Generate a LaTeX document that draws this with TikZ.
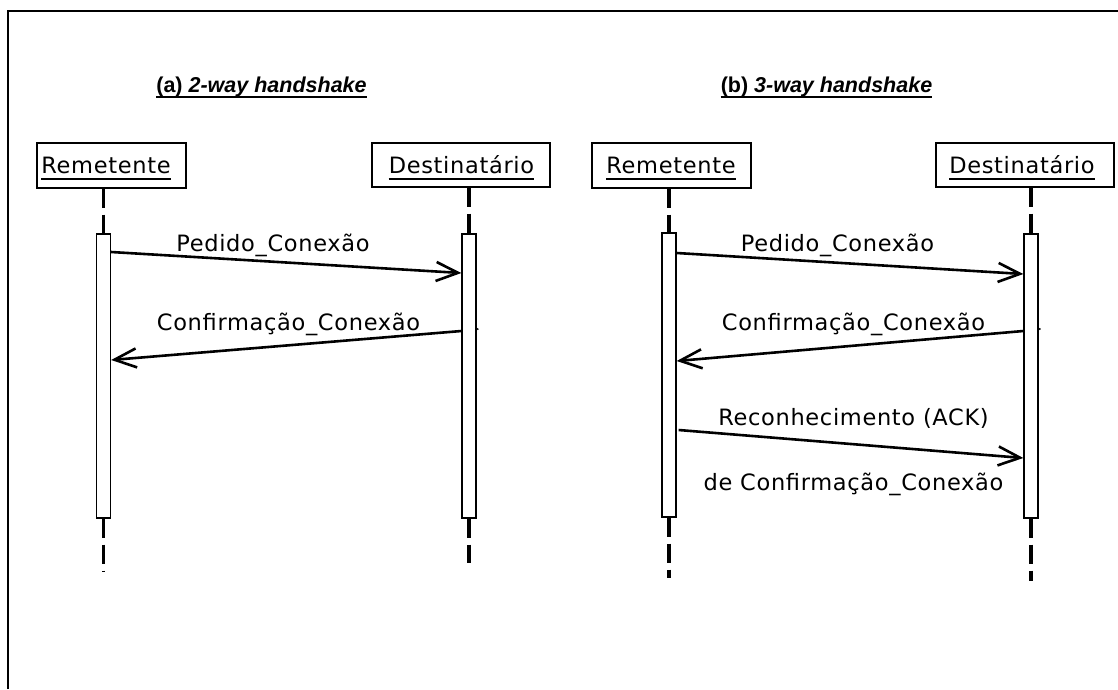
\documentclass[tikz,border=0pt]{standalone}
\usepackage{fontspec}
\usetikzlibrary{arrows.meta,calc}
\newfontfamily\lblfont[LetterSpace=3]{DejaVu Sans}
\newfontfamily\titlefont{Liberation Sans}

\begin{document}
\begin{tikzpicture}[x=1pt,y=-1pt,
  lifeline/.style={line width=3.2pt, dash pattern=on 19pt off 7pt},
  actor/.style={draw, line width=1.4pt, fill=white, inner sep=0pt},
  activation/.style={draw, line width=1.3pt, fill=white, minimum width=14pt, inner sep=0pt},
  msg/.style={line width=2.6pt, -{Straight Barb[length=22pt,width=19pt,line width=2.6pt]}},
  lbl/.style={font=\lblfont\fontsize{22.5}{27}\selectfont, inner sep=0pt, anchor=base},
  ttl/.style={font=\titlefont\fontsize{21.5}{25}\selectfont\bfseries, inner sep=0pt, anchor=base},
  uline/.style={line width=2.8pt},
  tline/.style={line width=1.8pt},
]
\useasboundingbox (0,0) rectangle (1118,689);
\fill[white] (0,0) rectangle (1118,689);

% outer frame
\draw[line width=1.5pt] (8,689) -- (8,11) -- (1118,11);

% titles
\node[ttl] (ttlA) at (261.5,92) {(a) \textit{2-way handshake}};
\node[ttl] (ttlB) at (826.5,92) {(b) \textit{3-way handshake}};
\draw[tline] ($(ttlA.base west)+(0,5)$) -- ($(ttlA.base east)+(0,5)$);
\draw[tline] ($(ttlB.base west)+(0,5)$) -- ($(ttlB.base east)+(0,5)$);

% actor boxes
\node[actor, minimum width=149pt, minimum height=45pt] (aR) at (111.5,165.5) {};
\node[actor, minimum width=178pt, minimum height=44pt] (aD) at (461,165) {};
\node[actor, minimum width=159pt, minimum height=45pt] (bR) at (671.5,165.5) {};
\node[actor, minimum width=178pt, minimum height=44pt] (bD) at (1025,165) {};

\node[lbl] (aRt) at (106,173) {Remetente};
\node[lbl] (aDt) at (461.5,173) {Destinatário};
\node[lbl] (bRt) at (671,173) {Remetente};
\node[lbl] (bDt) at (1022,173) {Destinatário};
\foreach \t in {aRt,aDt,bRt,bDt}
  \draw[uline] ($(\t.base west)+(0,6)$) -- ($(\t.base east)+(0,6)$);

% activation bars
\node[activation, minimum height=284pt] (aRact) at (103.5,376) {};
\node[activation, minimum height=284pt] (aDact) at (469,376) {};
\node[activation, minimum height=284pt] (bRact) at (669,375) {};
\node[activation, minimum height=284pt] (bDact) at (1031,376) {};

% lifelines
\coordinate (aRend) at (103.5,572);
\coordinate (aDend) at (469,563);
\coordinate (bRend) at (669,578);
\coordinate (bDend) at (1031,581);
\draw[lifeline] (aRact.north |- aR.south) -- (aRact.north);
\draw[lifeline] (aDact.north |- aD.south) -- (aDact.north);
\draw[lifeline] (bRact.north |- bR.south) -- (bRact.north);
\draw[lifeline] (bDact.north |- bD.south) -- (bDact.north);
\draw[lifeline] (aRact.south) -- (aRend);
\draw[lifeline] (aDact.south) -- (aDend);
\draw[lifeline] (bRact.south) -- (bRend);
\draw[lifeline] (bDact.south) -- (bDend);

% messages (a)
\draw[msg] (aRact.east |- 0,252) -- (aDact.west |- 0,273);
\draw[msg] (aDact.west |- 0,331) -- (aRact.east |- 0,360);
\node[lbl] (aM1) at (273,251) {Pedido\_Conexão};
\node[lbl] (aM2) at (288.5,330) {Confirmação\_Conexão};

% messages (b)
\draw[msg] (bRact.east |- 0,253) -- (bDact.west |- 0,274);
\draw[msg] (bDact.west |- 0,331) -- (bRact.east |- 0,361);
\draw[msg] ($(bRact.east |- 0,430)+(2,0)$) -- (bDact.west |- 0,458);
\node[lbl] (bM1) at (837.5,251) {Pedido\_Conexão};
\node[lbl] (bM2) at (853.5,330) {Confirmação\_Conexão};
\node[lbl] (bM3) at (853.5,425) {Reconhecimento (ACK)};
\node[lbl] (bM4) at (853.5,490) {de Confirmação\_Conexão};

% small marks beside the reply arrows
\fill (aDact.east |- 0,329) ++(1,0) circle (1.1pt);
\fill (bDact.east |- 0,329) ++(1,0) circle (1.1pt);
\end{tikzpicture}
\end{document}
